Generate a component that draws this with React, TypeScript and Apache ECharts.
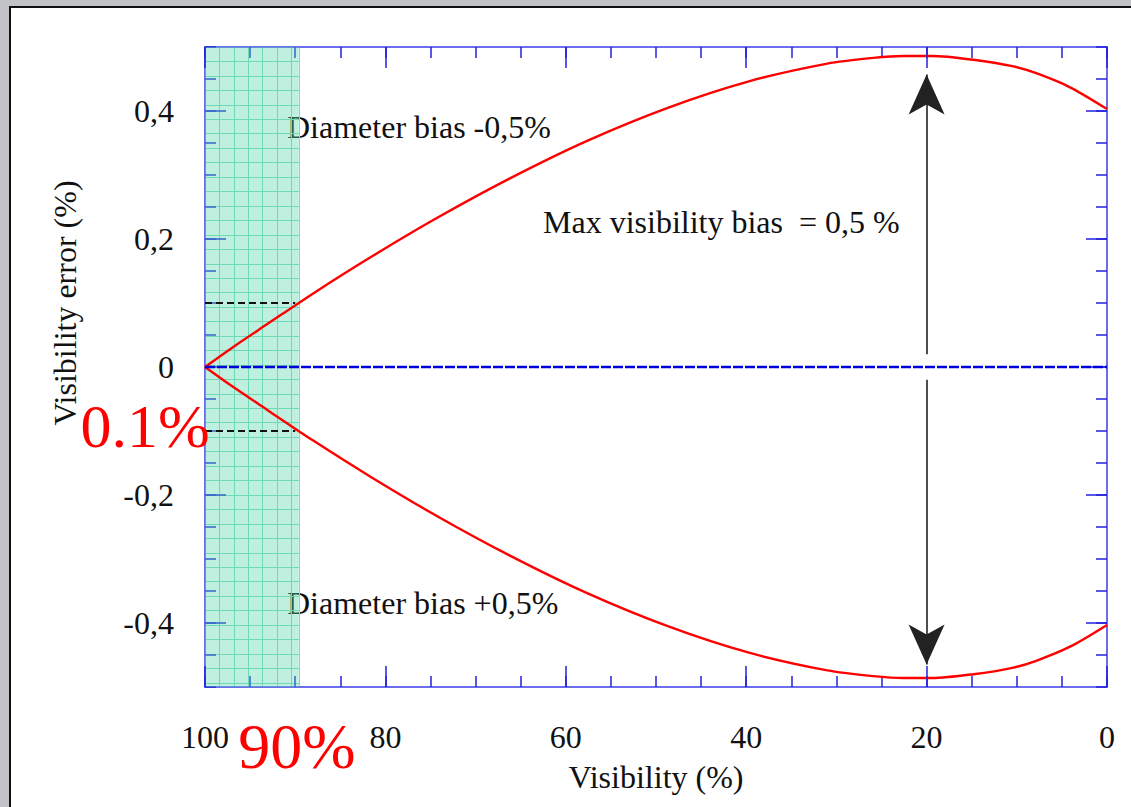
import React, { useEffect, useRef } from "react";
import * as echarts from "echarts";

// Visibility (%) sample points along the curves
const visibility = [100, 96.9, 93.1, 88.0, 81.7, 74.4, 66.3, 57.7, 48.7, 39.8, 31.0, 25.9, 22.6, 19.4, 14.8, 10.5, 7.85, 4.1, 0];
// Visibility error (%) for diameter bias -0.5%
const errorBiasMinus = [0, 0.031, 0.067, 0.115, 0.171, 0.232, 0.294, 0.353, 0.405, 0.446, 0.474, 0.483, 0.486, 0.486, 0.48, 0.47, 0.459, 0.437, 0.403];
// Visibility error (%) for diameter bias +0.5%
const errorBiasPlus = [0, -0.031, -0.067, -0.115, -0.171, -0.232, -0.294, -0.353, -0.405, -0.446, -0.474, -0.483, -0.486, -0.486, -0.48, -0.47, -0.459, -0.437, -0.403];
const xLabelValues = [0, 20, 40, 60, 80, 100];
const yLabelValues = [-0.4, -0.2, 0, 0.2, 0.4];
const zeroLine = [[100, 0], [0, 0]];
const shadedRange = [100, 89.6];
const markerLevel = 0.1;
const arrowX = 20;
const arrowUp = [0.02, 0.457];
const arrowDown = [-0.02, -0.465];

const FONT = "'Liberation Serif', 'Times New Roman', serif";
const AXIS_LINE = "#6c6cee";
const TICK = "#2222dd";

export default function App() {
  const ref = useRef<HTMLDivElement>(null);
  useEffect(() => {
    if (!ref.current) return;
    const chart = echarts.init(ref.current, undefined, { renderer: "svg" });
    const upper = visibility.map((v, i) => [v, errorBiasMinus[i]]);
    const lower = visibility.map((v, i) => [v, errorBiasPlus[i]]);
    const fmt = (v: number) => String(v).replace(".", ",");
    const xTicks = (step: number, len: number) => ({
      type: "value",
      min: 0,
      max: 100,
      interval: step,
      inverse: true,
      gridIndex: 0,
      splitLine: { show: false },
      axisLine: { show: false, onZero: false },
      axisLabel: { show: false },
      axisTick: { show: true, inside: true, length: len, lineStyle: { color: TICK, width: 1.5 } },
    });
    const yLong = {
      type: "value",
      min: -0.5,
      max: 0.5,
      gridIndex: 0,
      splitLine: { show: false },
      axisLine: { show: true, onZero: false, lineStyle: { color: AXIS_LINE, width: 2 } },
      axisTick: { show: true, inside: true, length: 21, customValues: yLabelValues, lineStyle: { color: TICK, width: 1.5 } },
    };
    const yShort = {
      type: "value",
      min: -0.5,
      max: 0.5,
      interval: 0.05,
      gridIndex: 0,
      splitLine: { show: false },
      axisLine: { show: false, onZero: false },
      axisLabel: { show: false },
      axisTick: { show: true, inside: true, length: 11, lineStyle: { color: TICK, width: 1.5 } },
    };
    // long tick marks on the top/bottom frame at each labelled visibility value
    const tickLen = 0.033;
    const longTicks: any[] = [];
    xLabelValues.forEach((v) => {
      longTicks.push([{ coord: [v, -0.5] }, { coord: [v, -0.5 + tickLen] }]);
      longTicks.push([{ coord: [v, 0.5] }, { coord: [v, 0.5 - tickLen] }]);
    });
    chart.setOption({
      animation: false,
      grid: [
        { left: 205, right: 24, top: 47, bottom: 120 },
        { left: 205, width: 94, top: 47, bottom: 120 },
      ],
      xAxis: [
        {
          type: "value",
          min: 0,
          max: 100,
          interval: 20,
          inverse: true,
          gridIndex: 0,
          position: "bottom",
          splitLine: { show: false },
          axisLine: { show: true, onZero: false, lineStyle: { color: AXIS_LINE, width: 2 } },
          axisTick: { show: false },
          axisLabel: { show: true, margin: 34, color: "#111", fontFamily: FONT, fontSize: 32 },
          name: "Visibility (%)",
          nameLocation: "middle",
          nameGap: 74,
          nameTextStyle: { color: "#111", fontFamily: FONT, fontSize: 32 },
        },
        {
          type: "value",
          min: 0,
          max: 100,
          interval: 20,
          inverse: true,
          gridIndex: 0,
          position: "top",
          splitLine: { show: false },
          axisLine: { show: true, onZero: false, lineStyle: { color: AXIS_LINE, width: 2 } },
          axisTick: { show: false },
          axisLabel: { show: false },
        },
        {
          type: "value",
          gridIndex: 1,
          min: 0,
          max: 94,
          interval: 14.4,
          axisLine: { show: false, onZero: false },
          axisTick: { show: false },
          axisLabel: { show: false },
          splitLine: { show: true, lineStyle: { color: "#7fdcbc", width: 1 } },
        },
        { ...xTicks(5, 11), position: "bottom" },
        { ...xTicks(5, 11), position: "top" },
      ],
      yAxis: [
        {
          ...yLong,
          position: "left",
          axisLabel: {
            show: true,
            customValues: yLabelValues,
            formatter: fmt,
            margin: 31,
            color: "#111",
            fontFamily: FONT,
            fontSize: 32,
          },
        },
        { ...yShort, position: "left" },
        { ...yLong, position: "right", axisLabel: { show: false } },
        { ...yShort, position: "right" },
        {
          type: "value",
          gridIndex: 1,
          min: 0,
          max: 640,
          interval: 14.45,
          inverse: true,
          axisLine: { show: false, onZero: false },
          axisTick: { show: false },
          axisLabel: { show: false },
          splitLine: { show: true, lineStyle: { color: "#7fdcbc", width: 1 } },
        },
      ],
      series: [
        {
          type: "line",
          name: "Diameter bias -0,5%",
          data: upper,
          xAxisIndex: 0,
          yAxisIndex: 0,
          smooth: 0.3,
          symbol: "none",
          z: 2,
          lineStyle: { color: "#ff0000", width: 2.4 },
        },
        {
          type: "line",
          name: "Diameter bias +0,5%",
          data: lower,
          xAxisIndex: 0,
          yAxisIndex: 0,
          smooth: 0.3,
          symbol: "none",
          z: 2,
          lineStyle: { color: "#ff0000", width: 2.4 },
        },
        {
          type: "line",
          name: "zero",
          data: zeroLine,
          xAxisIndex: 0,
          yAxisIndex: 0,
          symbol: "none",
          z: 2,
          lineStyle: { color: "#0000dd", width: 2.5, type: [10, 2] },
        },
        {
          type: "line",
          name: "shade",
          data: [],
          xAxisIndex: 0,
          yAxisIndex: 0,
          z: 3,
          markArea: {
            silent: true,
            itemStyle: { color: "rgba(84,214,172,0.38)" },
            data: [[{ xAxis: shadedRange[0] }, { xAxis: shadedRange[1] }]],
          },
        },
        {
          type: "line",
          name: "frameTicks",
          data: [],
          xAxisIndex: 0,
          yAxisIndex: 0,
          z: 4,
          markLine: {
            silent: true,
            symbol: ["none", "none"],
            label: { show: false },
            lineStyle: { color: TICK, width: 1.5, type: "solid" },
            data: longTicks,
          },
        },
        {
          type: "line",
          name: "levels",
          data: [],
          xAxisIndex: 0,
          yAxisIndex: 0,
          z: 4,
          markLine: {
            silent: true,
            symbol: ["none", "none"],
            label: { show: false },
            lineStyle: { color: "#111", width: 2, type: [7, 4] },
            data: [
              [{ coord: [100, markerLevel] }, { coord: [90, markerLevel] }],
              [{ coord: [100, -markerLevel] }, { coord: [90, -markerLevel] }],
            ],
          },
        },
        {
          type: "line",
          name: "arrows",
          data: [],
          xAxisIndex: 0,
          yAxisIndex: 0,
          z: 4,
          markLine: {
            silent: true,
            symbol: ["none", "arrow"],
            symbolSize: [27, 40],
            label: { show: false },
            lineStyle: { color: "#222", width: 1.6, type: "solid" },
            data: [
              [{ coord: [arrowX, arrowUp[0]] }, { coord: [arrowX, arrowUp[1]] }],
              [{ coord: [arrowX, arrowDown[0]] }, { coord: [arrowX, arrowDown[1]] }],
            ],
          },
        },
      ],
      graphic: [
        {
          type: "text",
          x: 65,
          y: 303,
          rotation: Math.PI / 2,
          style: { text: "Visibility error (%)", font: `32px ${FONT}`, fill: "#111", align: "center", verticalAlign: "middle" },
        },
        {
          type: "text",
          x: 287,
          y: 127,
          style: { text: "Diameter bias -0,5%", font: `32px ${FONT}`, fill: "#111", align: "left", verticalAlign: "middle" },
        },
        {
          type: "text",
          x: 287,
          y: 603,
          style: { text: "Diameter bias +0,5%", font: `32px ${FONT}`, fill: "#111", align: "left", verticalAlign: "middle" },
        },
        {
          type: "text",
          x: 543,
          y: 222,
          style: { text: "Max visibility bias  = 0,5 %", font: `32px ${FONT}`, fill: "#111", align: "left", verticalAlign: "middle" },
        },
        {
          type: "text",
          x: 145,
          y: 426,
          z: 100,
          style: { text: "0.1%", font: `62px ${FONT}`, fill: "#ff0000", align: "center", verticalAlign: "middle" },
        },
        {
          type: "text",
          x: 297,
          y: 746,
          z: 100,
          style: { text: "90%", font: `64px ${FONT}`, fill: "#ff0000", align: "center", verticalAlign: "middle" },
        },
      ],
    });
    return () => chart.dispose();
  }, []);

  return (
    <div style={{ position: "fixed", left: 0, top: 0, width: 1131, height: 807, background: "#c2c3c7", overflow: "hidden" }}>
      <div
        style={{
          position: "absolute",
          left: 9,
          top: 6,
          width: 1200,
          height: 900,
          background: "#ffffff",
          borderLeft: "2px solid #111",
          borderTop: "2px solid #111",
        }}
      />
      <div ref={ref} style={{ position: "absolute", left: 0, top: 0, width: 1131, height: 807 }} />
    </div>
  );
}
